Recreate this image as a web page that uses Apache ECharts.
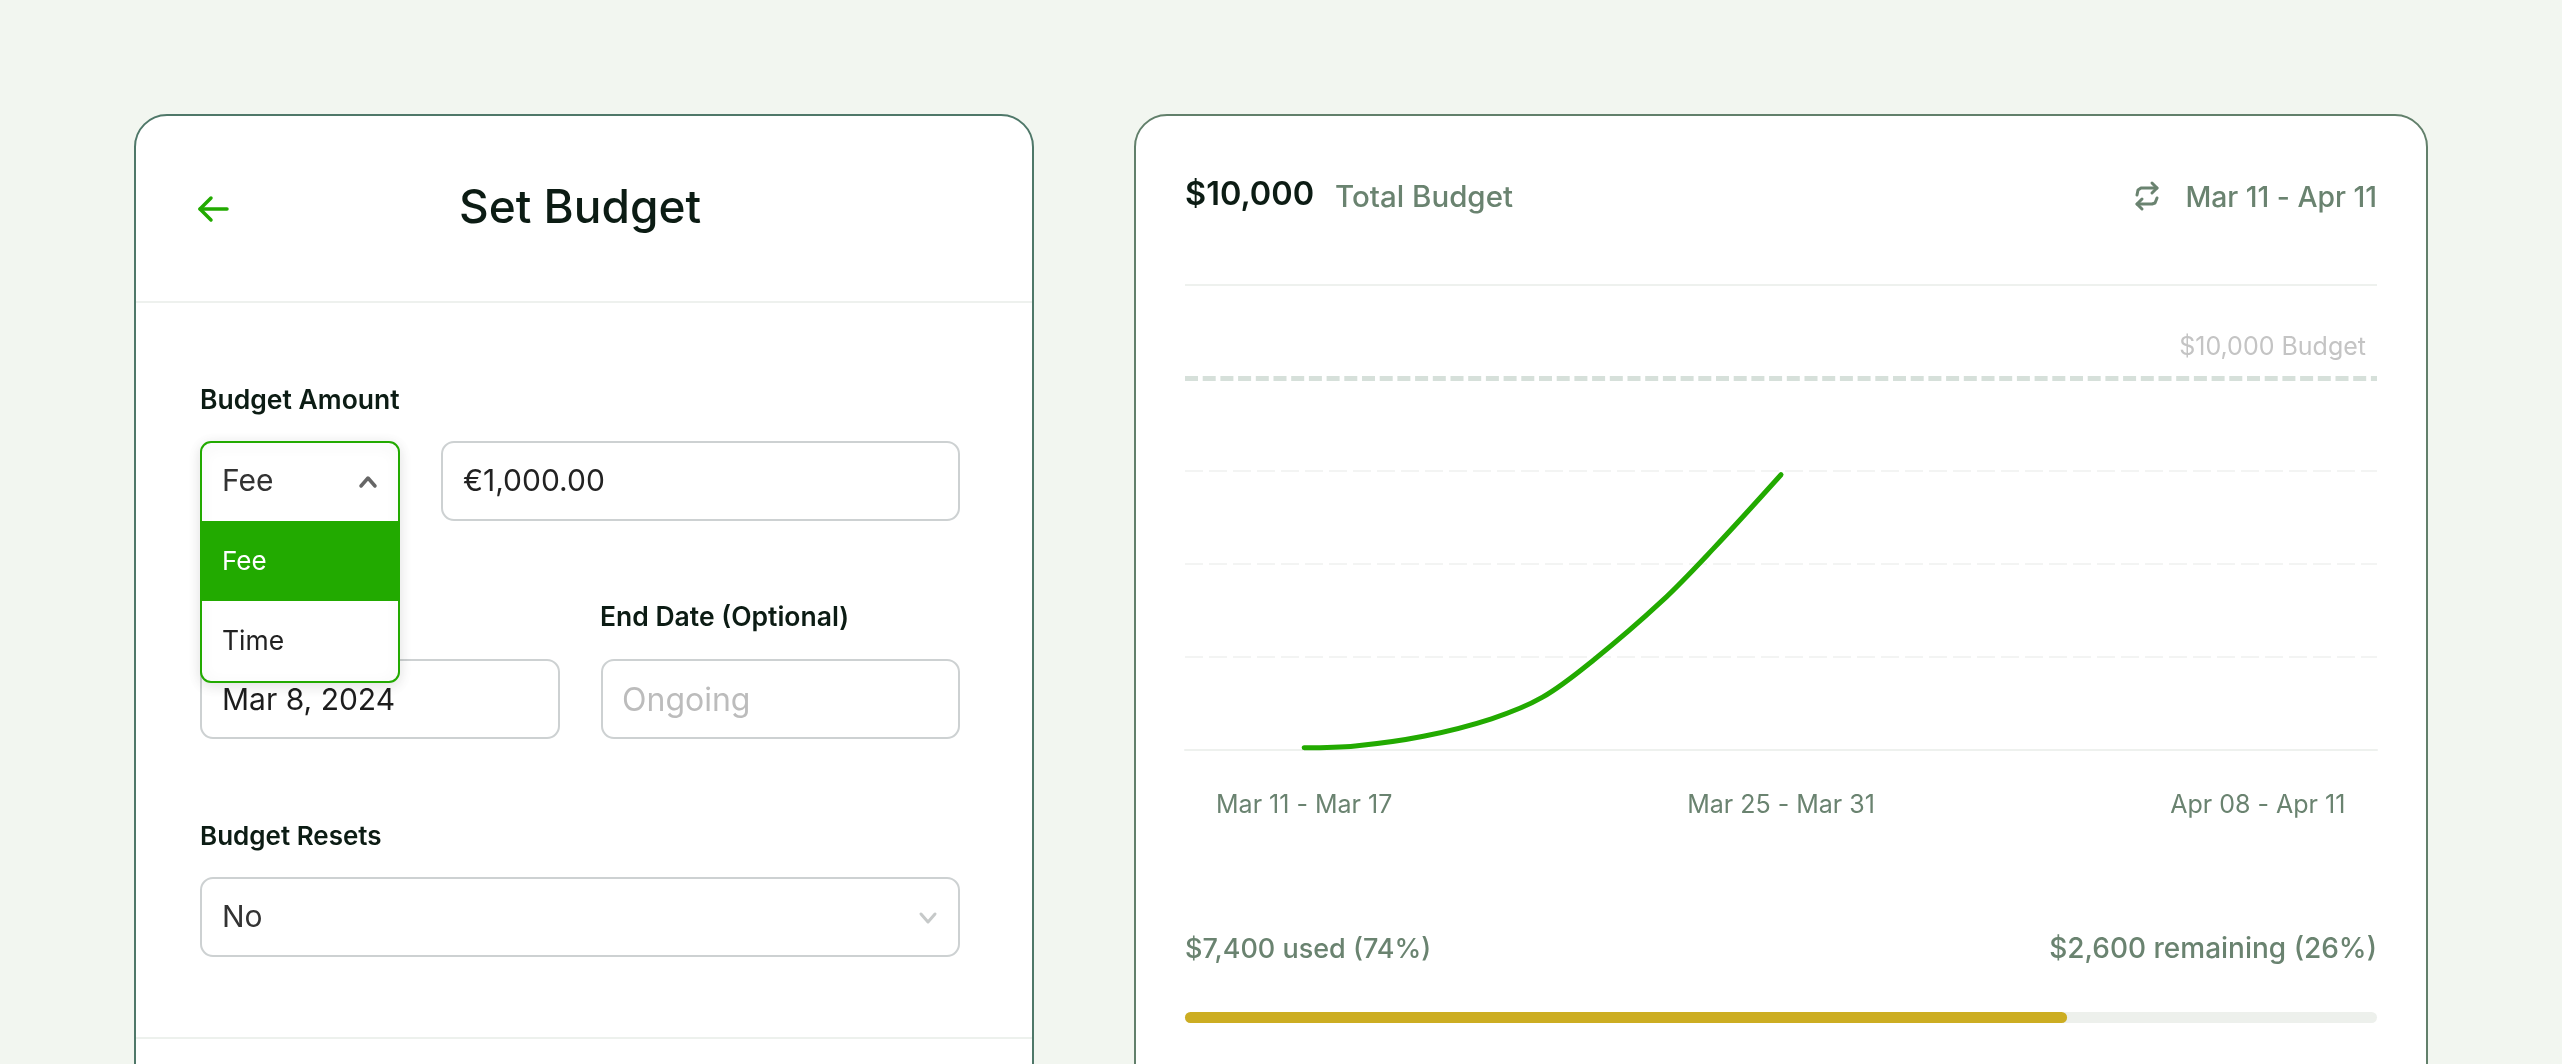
<!DOCTYPE html>
<html>
<head>
<meta charset="utf-8">
<title>Set Budget</title>
<script src="https://cdn.jsdelivr.net/npm/echarts@6/dist/echarts.min.js"></script>
<style>
	html, body { margin: 0; padding: 0; background: #f2f6f0; overflow: hidden; }
	#chart { width: 2562px; height: 1064px; }
</style>
</head>
<body>
<div id="chart"></div>
<script>
// chart data
const weekLabels = ["Mar 11 - Mar 17", "Mar 18 - Mar 24", "Mar 25 - Mar 31", "Apr 01 - Apr 07", "Apr 08 - Apr 11"];
// days counted from Mar 11, the curve runs on a hidden day axis under the week labels
const usedDays = [3.5, 5, 7, 9, 10.5, 12, 14, 15.5, 17.5];
const usedValues = [60, 110, 370, 840, 1420, 2420, 4000, 5400, 7400];
const minorGridValues = [2500, 5000, 7500];
const budgetLine = 10000;
const axisMax = 12500;
const periodDays = 35;
const usedAmount = [7400];

const FONT = "Inter";
const GREEN = "#22aa00";
const SAGE = "#6a8370";
const INK = "#0c1c14";

function text(str, x, y, size, fill, weight, align) {
	return {
		type: "text",
		z: 10,
		style: {
			text: str,
			x: x,
			y: y,
			fill: fill,
			fontSize: size,
			fontFamily: FONT,
			fontWeight: weight || 400,
			textAlign: align || "left",
			textVerticalAlign: "middle",
		},
	};
}

function box(x, y, w, h, r, stroke, fill, extra) {
	return Object.assign({
		type: "rect",
		z: 5,
		shape: { x: x, y: y, width: w, height: h, r: r },
		style: { fill: fill || "#fff", stroke: stroke, lineWidth: 2 },
	}, extra || {});
}

function line(points, stroke, width) {
	return {
		type: "polyline",
		z: 10,
		shape: { points: points },
		style: { fill: null, stroke: stroke, lineWidth: width, lineCap: "round", lineJoin: "round" },
	};
}

const BORDER = "#cdd1d2";

const graphicElements = [
	// cards
	box(135, 115, 898, 1100, 32, "#4f7869", "#fff", { z: 1 }),
	box(1135, 115, 1292, 1100, 32, "#62806b", "#fff", { z: 1 }),
	{ type: "rect", z: 2, shape: { x: 136, y: 301, width: 896, height: 2 }, style: { fill: "#eef1ee" } },
	{ type: "rect", z: 2, shape: { x: 136, y: 1037, width: 896, height: 2 }, style: { fill: "#edf1ed" } },

	// header of the form
	line([[227, 209], [200, 209]], GREEN, 3.5),
	line([[211, 198], [200, 209], [211, 220]], GREEN, 3.5),
	text("Set Budget", 580, 209, 46, INK, 500, "center"),

	// form labels
	text("Budget Amount", 200, 401, 26.5, INK, 600),
	text("End Date (Optional)", 600, 618, 26.5, INK, 600),
	text("Budget Resets", 200, 837, 26, INK, 600),

	// inputs
	box(442, 442, 517, 78, 12, BORDER),
	text("€1,000.00", 463, 482, 30, "#222", 400),
	box(201, 660, 358, 78, 12, BORDER),
	text("Mar 8, 2024", 222, 701, 30, "#1c1c1c", 400),
	box(602, 660, 357, 78, 12, BORDER),
	text("Ongoing", 622, 701, 32, "#bcbcbc", 400),
	box(201, 878, 758, 78, 12, BORDER),
	text("No", 222, 918, 30, "#333", 400),
	line([[921, 914], [928, 922], [935, 914]], "#c6c9c9", 3),

	// open dropdown
	box(201, 442, 198, 240, 10, GREEN, "#fff", { z: 7, style: { fill: "#fff", stroke: GREEN, lineWidth: 2, shadowBlur: 14, shadowColor: "rgba(0,0,0,0.12)", shadowOffsetY: 3 } }),
	{ type: "rect", z: 8, shape: { x: 201, y: 521, width: 198, height: 80 }, style: { fill: GREEN } },
	{ type: "text", z: 9, style: { text: "Fee", x: 222, y: 482, fill: "#333", fontSize: 30, fontFamily: FONT, textVerticalAlign: "middle" } },
	{ type: "text", z: 9, style: { text: "Fee", x: 222, y: 562, fill: "#fff", fontSize: 26, fontFamily: FONT, textVerticalAlign: "middle" } },
	{ type: "text", z: 9, style: { text: "Time", x: 222, y: 642, fill: "#222", fontSize: 26.5, fontFamily: FONT, textVerticalAlign: "middle" } },
	Object.assign(line([[361, 486], [368, 478], [375, 486]], "#666", 3.5), { z: 9 }),

	// header of the chart card
	text("$10,000", 1185, 195, 32.5, INK, 600),
	text("Total Budget", 1335, 198, 29.5, SAGE, 500),
	line([[2137, 195], [2138, 190], [2141, 188], [2157, 188]], SAGE, 3),
	line([[2152, 183], [2157, 188], [2152, 193]], SAGE, 3),
	line([[2157, 198], [2155, 203], [2152, 204], [2137, 204]], SAGE, 3),
	line([[2142, 199], [2137, 204], [2142, 209]], SAGE, 3),
	text("Mar 11 - Apr 11", 2377, 198, 28.3, SAGE, 500, "right"),

	// progress captions
	text("$7,400 used (74%)", 1185, 950, 27, SAGE, 500),
	text("$2,600 remaining (26%)", 2377, 950, 28, SAGE, 500, "right"),
];

const chart = echarts.init(document.getElementById("chart"));
chart.setOption({
	animation: false,
	backgroundColor: "#f2f6f0",
	textStyle: { fontFamily: FONT },
	graphic: { elements: graphicElements },
	grid: [
		{ left: 1185, width: 1192, top: 285, height: 465 },
		{ left: 1185, width: 1192, top: 1012, height: 11 },
	],
	xAxis: [
		{
			type: "category",
			data: weekLabels,
			boundaryGap: true,
			z: 20,
			axisLine: { lineStyle: { color: "#eef1ee", width: 2 } },
			axisTick: { show: false },
			axisLabel: { interval: 1, color: SAGE, fontSize: 25, margin: 43, fontFamily: FONT },
			splitLine: { show: false },
		},
		{ gridIndex: 1, type: "value", min: 0, max: budgetLine, show: false },
		{ type: "value", min: 0, max: periodDays, show: false },
	],
	yAxis: [
		{ type: "value", min: 0, max: axisMax, interval: 2500, show: false },
		{ gridIndex: 1, type: "category", data: ["used"], show: false },
	],
	series: [
		{
			name: "Used",
			type: "line",
			xAxisIndex: 2,
			z: 20,
			data: usedDays.map(function(d, i) {
				return [d, usedValues[i]];
			}),
			smooth: 0.35,
			showSymbol: false,
			lineStyle: { color: GREEN, width: 5, cap: "round" },
			markLine: {
				silent: true,
				z: 15,
				symbol: "none",
				label: { show: false },
				data: minorGridValues.map(function(v) {
					return { yAxis: v, lineStyle: { color: "#f3f4f3", width: 2, type: [18, 6] } };
				}).concat([
					{
						yAxis: budgetLine,
						lineStyle: { color: "#d6e0da", width: 5, type: [13, 4.7] },
						label: {
							show: true,
							position: "insideEndTop",
							formatter: "$10,000 Budget",
							color: "#c4c4c4",
							fontSize: 25,
							fontFamily: FONT,
							distance: [11, 18],
						},
					},
					{ yAxis: axisMax, lineStyle: { color: "#eef1ee", width: 2, type: "solid" } },
				]),
			},
		},
		{
			name: "Budget used",
			type: "bar",
			xAxisIndex: 1,
			yAxisIndex: 1,
			z: 20,
			barWidth: 11,
			data: usedAmount,
			showBackground: true,
			backgroundStyle: { color: "#edf0ec", borderRadius: 6 },
			itemStyle: { color: "#ccad22", borderRadius: 6 },
		},
	],
});
</script>
</body>
</html>
